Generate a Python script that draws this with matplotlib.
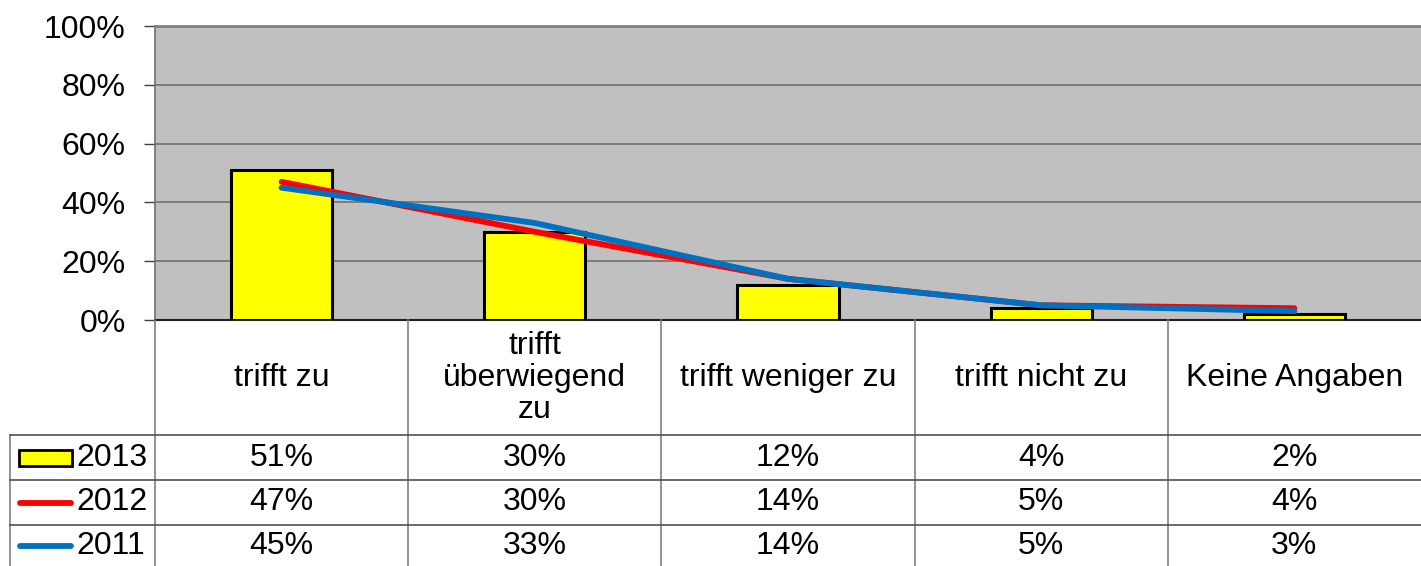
import matplotlib
matplotlib.use("Agg")
import matplotlib.pyplot as plt
from matplotlib.lines import Line2D
from matplotlib.patches import Rectangle
from matplotlib.transforms import blended_transform_factory
import numpy as np

plt.rcParams['font.family'] = ['Liberation Sans', 'DejaVu Sans']

# === Daten ===
categories = ["trifft zu", "trifft\nüberwiegend\nzu", "trifft weniger zu",
              "trifft nicht zu", "Keine Angaben"]
years = ["2013", "2012", "2011"]
v2013 = [51, 30, 12, 4, 2]
v2012 = [47, 30, 14, 5, 4]
v2011 = [45, 33, 14, 5, 3]
yticks = [0, 20, 40, 60, 80, 100]

W, H = 1421, 566
FS = 23
fig = plt.figure(figsize=(W / 100, H / 100), dpi=100)

def fx(px):
    return px / W

def fy(py):
    return 1 - py / H

# === Diagrammfläche ===
ax = fig.add_axes([fx(155), fy(320), fx(W) - fx(155), fy(26) - fy(320)])
ax.set_facecolor('#c0c0c0')
x = np.arange(len(categories))
ax.bar(x, v2013, width=0.4, color='#ffff00', edgecolor='black', linewidth=2.2, zorder=3)
ax.plot(x, v2012, color='#ff0000', linewidth=4.2, solid_capstyle='round', zorder=4)
ax.plot(x, v2011, color='#0070c0', linewidth=4.2, solid_capstyle='round', zorder=5)
ax.set_xlim(-0.5, len(categories) - 0.5)
ax.set_ylim(0, 100)
ax.set_yticks(yticks)
ax.set_yticklabels([f"{t}%" for t in yticks], fontsize=FS)
ax.tick_params(axis='y', length=8, width=1, color='#404040', pad=13)
ax.set_xticks([])
ax.grid(axis='y', color='#707070', linewidth=1.2, zorder=0)
ax.set_axisbelow(True)
ax.spines['top'].set_color('#808080')
ax.spines['top'].set_linewidth(2)
ax.spines['right'].set_visible(False)
ax.spines['left'].set_color('#707070')
ax.spines['left'].set_linewidth(1.2)
ax.spines['bottom'].set_color('#202020')
ax.spines['bottom'].set_linewidth(1.5)

# === Datentabelle ===
tr = blended_transform_factory(ax.transData, fig.transFigure)
line_c = '#808080'
row_y = [435, 480, 525, 566]

# vertikale Linien
for i in range(len(categories)):
    b = i - 0.5
    fig.add_artist(Line2D([b, b], [fy(320), fy(566)], transform=tr,
                          color=line_c, linewidth=1.2))
fig.add_artist(Line2D([fx(10), fx(10)], [fy(435), fy(566)], transform=fig.transFigure,
                      color=line_c, linewidth=1.2))
# horizontale Linien
for py in row_y[:-1]:
    fig.add_artist(Line2D([fx(10), 1], [fy(py), fy(py)], transform=fig.transFigure,
                          color='#505050', linewidth=1.2))

# Kategorien
for i, c in enumerate(categories):
    fig.text(i, fy(378), c, transform=tr, ha='center', va='center',
             fontsize=FS, linespacing=1.1)

# Werte
series = [v2013, v2012, v2011]
for r, vals in enumerate(series):
    yc = (fy(row_y[r]) + fy(row_y[r + 1])) / 2
    for i, v in enumerate(vals):
        fig.text(i, yc, f"{v}%", transform=tr, ha='center', va='center', fontsize=FS)

# Legendenschlüssel
yc = [(fy(row_y[r]) + fy(row_y[r + 1])) / 2 for r in range(3)]
fig.add_artist(Rectangle((fx(19), yc[0] - 8 / H), fx(72) - fx(19), 16 / H,
                         transform=fig.transFigure, facecolor='#ffff00',
                         edgecolor='black', linewidth=2))
fig.add_artist(Line2D([fx(20), fx(71)], [yc[1], yc[1]], transform=fig.transFigure,
                      color='#ff0000', linewidth=4.2, solid_capstyle='round'))
fig.add_artist(Line2D([fx(20), fx(71)], [yc[2], yc[2]], transform=fig.transFigure,
                      color='#0070c0', linewidth=4.2, solid_capstyle='round'))
for r, yr in enumerate(years):
    fig.text(fx(76), yc[r], yr, ha='left', va='center', fontsize=FS)

fig.savefig("out.png", dpi=100)
